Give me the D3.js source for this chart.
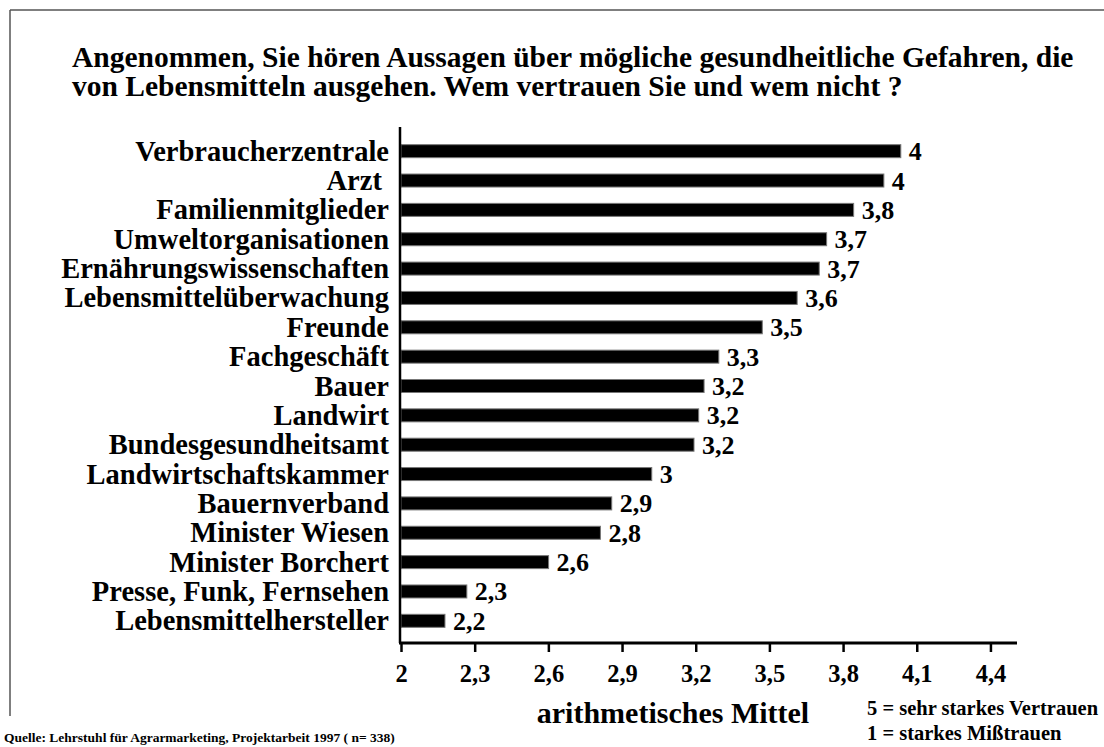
<!DOCTYPE html>
<html>
<head>
<meta charset="utf-8">
<script src="https://cdn.jsdelivr.net/npm/d3@7/dist/d3.min.js"></script>
<style>
html,body{margin:0;padding:0;background:#fff;}
svg{display:block;}
text{font-family:"Liberation Serif","Times New Roman",serif;font-weight:bold;fill:#000;}
</style>
</head>
<body>
<svg id="chart" width="1104" height="747"></svg>
<script>
const categories = ["Verbraucherzentrale","Arzt ","Familienmitglieder","Umweltorganisationen","Ernährungswissenschaften","Lebensmittelüberwachung","Freunde","Fachgeschäft","Bauer","Landwirt","Bundesgesundheitsamt","Landwirtschaftskammer","Bauernverband","Minister Wiesen","Minister Borchert","Presse, Funk, Fernsehen","Lebensmittelhersteller"];
const values = [4.035,3.966,3.843,3.733,3.703,3.613,3.471,3.294,3.234,3.212,3.193,3.021,2.858,2.812,2.601,2.268,2.179];
const valueLabels = ["4","4","3,8","3,7","3,7","3,6","3,5","3,3","3,2","3,2","3,2","3","2,9","2,8","2,6","2,3","2,2"];
const tickValues = [2,2.3,2.6,2.9,3.2,3.5,3.8,4.1,4.4];
const tickLabels = ["2","2,3","2,6","2,9","3,2","3,5","3,8","4,1","4,4"];
const titleLines = ["Angenommen, Sie hören Aussagen über mögliche gesundheitliche Gefahren, die","von Lebensmitteln ausgehen. Wem vertrauen Sie und wem nicht ?"];
const axisTitle = "arithmetisches Mittel";
const legendLines = ["5 = sehr starkes Vertrauen","1 = starkes Mißtrauen"];
const sourceText = "Quelle: Lehrstuhl für Agrarmarketing, Projektarbeit 1997 ( n= 338)";

const svg = d3.select("#chart");

// frame
svg.append("line").attr("x1",10).attr("y1",10).attr("x2",1104).attr("y2",10).attr("stroke","#555").attr("stroke-width",1.5);
svg.append("line").attr("x1",10).attr("y1",10).attr("x2",10).attr("y2",716).attr("stroke","#555").attr("stroke-width",1.5);

// title
svg.append("g").selectAll("text").data(titleLines).join("text")
  .attr("x",72).attr("y",(d,i)=>67+i*29)
  .style("font-size","29.5px").text(d=>d);

const x = d3.scaleLinear().domain([2,4.5]).range([401,1015]);
const y = d3.scaleBand().domain(categories).range([136.5,635.5]).padding(0);
const barH = 13;

// bars
svg.append("g").selectAll("rect").data(values).join("rect")
  .attr("x",x(2))
  .attr("y",(d,i)=>y(categories[i])+y.bandwidth()/2-barH/2)
  .attr("width",d=>x(d)-x(2))
  .attr("height",barH)
  .attr("fill","#000").attr("stroke","#777").attr("stroke-width",1);

// value labels
svg.append("g").selectAll("text").data(values).join("text")
  .attr("x",d=>x(d)+8)
  .attr("y",(d,i)=>y(categories[i])+y.bandwidth()/2+9)
  .style("font-size","26px").text((d,i)=>valueLabels[i]);

// category labels
svg.append("g").selectAll("text").data(categories).join("text")
  .attr("x",389).attr("text-anchor","end").attr("xml:space","preserve")
  .attr("y",d=>y(d)+y.bandwidth()/2+9.5)
  .style("font-size","28.5px").style("white-space","pre").text(d=>d);

// y axis line
svg.append("line").attr("x1",400).attr("x2",400).attr("y1",127).attr("y2",643).attr("stroke","#000").attr("stroke-width",2.5);

// x axis
const xAxis = d3.axisBottom(x).tickValues(tickValues).tickFormat((d,i)=>tickLabels[i]).tickSize(9).tickPadding(13);
const gx = svg.append("g").attr("transform","translate(0,643)").call(xAxis);
gx.select(".domain").remove();
gx.selectAll(".tick line").attr("stroke","#000").attr("stroke-width",2.5);
gx.selectAll(".tick text").style("font-size","24.5px").style("font-family","'Liberation Serif','Times New Roman',serif").style("font-weight","bold").attr("fill","#000");
svg.append("line").attr("x1",399).attr("x2",1017).attr("y1",643).attr("y2",643).attr("stroke","#000").attr("stroke-width",3);

// axis title
svg.append("text").attr("x",673).attr("y",723).attr("text-anchor","middle").style("font-size","30px").text(axisTitle);

// legend
svg.append("g").selectAll("text").data(legendLines).join("text")
  .attr("x",867).attr("y",(d,i)=>715+i*25).style("font-size","20.5px").text(d=>d);

// source
svg.append("text").attr("x",4).attr("y",742).style("font-size","13.5px").text(sourceText);
</script>
</body>
</html>
